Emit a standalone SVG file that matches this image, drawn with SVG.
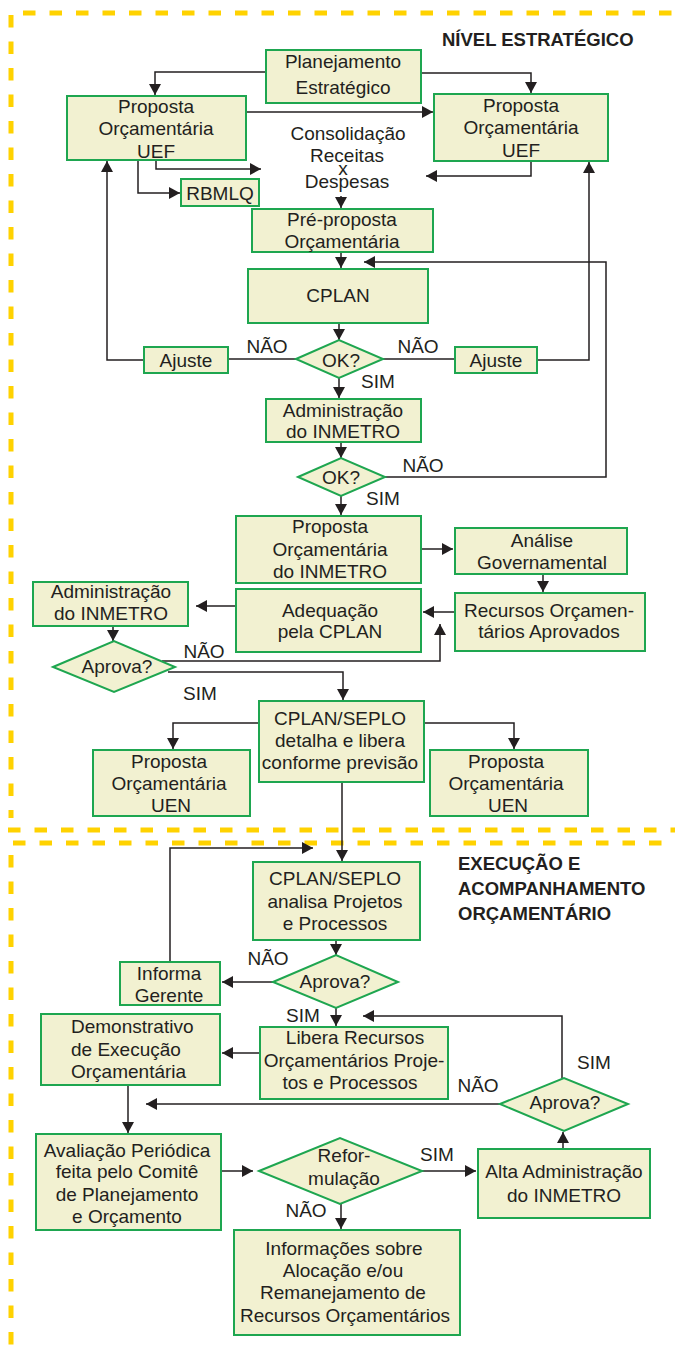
<svg xmlns="http://www.w3.org/2000/svg" width="675" height="1351" viewBox="0 0 675 1351">
<defs>
<marker id="ah" viewBox="0 0 11 12" refX="11" refY="6" markerWidth="11" markerHeight="12" markerUnits="userSpaceOnUse" orient="auto"><path d="M0,0 L11,6 L0,12 z" fill="#231F20"/></marker>
</defs>
<style>
.b{fill:#F2F1D1;stroke:#1EA650;stroke-width:2}
.t{font-family:"Liberation Sans",Arial,sans-serif;font-size:19px;fill:#231F20;text-anchor:middle}
.l{font-family:"Liberation Sans",Arial,sans-serif;font-size:19px;fill:#231F20}
.h{font-family:"Liberation Sans",Arial,sans-serif;font-size:18.5px;font-weight:bold;fill:#231F20}
.c{fill:none;stroke:#231F20;stroke-width:1.5}
.a{marker-end:url(#ah)}
.y{fill:none;stroke:#FFD200;stroke-width:5;stroke-dasharray:12.5 14}
</style>
<rect width="675" height="1351" fill="#FFFFFF"/>
<g id="borders">
<path class="y" d="M23,13 H675"/>
<path class="y" d="M11,15 V818"/>
<path class="y" d="M8,830 H675"/>
<path class="y" d="M13,843 H675"/>
<path class="y" d="M11,855 V1345"/>
</g>
<g id="titles">
<text class="h" x="442" y="46">NÍVEL ESTRATÉGICO</text>
<text class="h" x="458" y="870">EXECUÇÃO E</text>
<text class="h" x="458" y="895">ACOMPANHAMENTO</text>
<text class="h" x="458" y="920">ORÇAMENTÁRIO</text>
</g>
<g id="connectors">
<path class="c a" d="M266,72 H155 V95"/>
<path class="c a" d="M421,73 H531 V93"/>
<path class="c a" d="M246,112 H433"/>
<path class="c a" d="M156,160 V169 H261"/>
<path class="c a" d="M138,160 V193 H180"/>
<path class="c a" d="M531,161 V176 H426"/>
<path class="c a" d="M341,196 V208"/>
<path class="c a" d="M341,252 V268"/>
<path class="c a" d="M385,477 H606 V262 H364"/>
<path class="c a" d="M339,323 V340"/>
<path class="c" d="M296,359 H228"/>
<path class="c a" d="M144,360 H107 V161"/>
<path class="c" d="M383,359 H455"/>
<path class="c a" d="M537,360 H589 V162"/>
<path class="c a" d="M339,378 V398"/>
<path class="c a" d="M341,442 V458"/>
<path class="c a" d="M341,496 V515"/>
<path class="c a" d="M421,549 H453"/>
<path class="c a" d="M543,574 V592"/>
<path class="c a" d="M455,612 H423"/>
<path class="c a" d="M236,606 H196"/>
<path class="c a" d="M113,626 V641"/>
<path class="c a" d="M162,661 H440 V624"/>
<path class="c a" d="M168,672 H343 V700"/>
<path class="c a" d="M259,723 H173 V749"/>
<path class="c a" d="M424,723 H514 V749"/>
<path class="c a" d="M342,782 V861"/>
<path class="c a" d="M170,962 V848 H313"/>
<path class="c a" d="M336,940 V955"/>
<path class="c a" d="M273,982 H222"/>
<path class="c a" d="M336,1008 V1026"/>
<path class="c a" d="M260,1053 H222"/>
<path class="c a" d="M562,1078 V1016 H363"/>
<path class="c a" d="M500,1104 H146"/>
<path class="c a" d="M128,1085 V1133"/>
<path class="c a" d="M221,1171 H253"/>
<path class="c a" d="M422,1171 H476"/>
<path class="c a" d="M563,1149 V1132"/>
<path class="c a" d="M341,1204 V1229"/>
</g>
<g id="labels">
<text class="t" x="267" y="353">NÃO</text>
<text class="t" x="418" y="353">NÃO</text>
<text class="t" x="378" y="388">SIM</text>
<text class="t" x="423" y="472">NÃO</text>
<text class="t" x="383" y="505">SIM</text>
<text class="t" x="204" y="658">NÃO</text>
<text class="t" x="200" y="700">SIM</text>
<text class="t" x="268" y="965">NÃO</text>
<text class="t" x="303" y="1022">SIM</text>
<text class="t" x="478" y="1092">NÃO</text>
<text class="t" x="594" y="1069">SIM</text>
<text class="t" x="306" y="1217">NÃO</text>
<text class="t" x="437" y="1161">SIM</text>
</g>
<g id="n-planejamento"><rect class="b" x="266" y="50" width="155" height="53"/><text class="t" x="343" y="68">Planejamento</text><text class="t" x="343" y="94">Estratégico</text></g>
<g id="n-uef-left"><rect class="b" x="67" y="96" width="179" height="64"/><text class="t" x="156" y="113">Proposta</text><text class="t" x="156" y="135">Orçamentária</text><text class="t" x="156" y="158">UEF</text></g>
<g id="n-uef-right"><rect class="b" x="434" y="94" width="174" height="67"/><text class="t" x="521" y="112">Proposta</text><text class="t" x="521" y="134">Orçamentária</text><text class="t" x="521" y="157">UEF</text></g>
<g id="n-consolidacao"><text class="t" x="348" y="140">Consolidação</text><text class="t" x="347" y="162">Receitas</text><text class="t" x="343" y="175">x</text><text class="t" x="347" y="188">Despesas</text></g>
<g id="n-rbmlq"><rect class="b" x="181" y="179" width="78" height="27"/><text class="t" x="220" y="200">RBMLQ</text></g>
<g id="n-preproposta"><rect class="b" x="252" y="209" width="181" height="43"/><text class="t" x="342" y="226">Pré-proposta</text><text class="t" x="342" y="248">Orçamentária</text></g>
<g id="n-cplan"><rect class="b" x="248" y="269" width="180" height="54"/><text class="t" x="338" y="302">CPLAN</text></g>
<g id="n-ok1"><polygon class="b" points="296,359 339,340 383,359 339,378"/><text class="t" x="341" y="367">OK?</text></g>
<g id="n-ajuste-left"><rect class="b" x="144" y="347" width="84" height="26"/><text class="t" x="186" y="367">Ajuste</text></g>
<g id="n-ajuste-right"><rect class="b" x="455" y="347" width="82" height="26"/><text class="t" x="496" y="367">Ajuste</text></g>
<g id="n-admin1"><rect class="b" x="266" y="399" width="155" height="43"/><text class="t" x="343" y="417">Administração</text><text class="t" x="343" y="438">do INMETRO</text></g>
<g id="n-ok2"><polygon class="b" points="298,477 341,458 385,477 341,496"/><text class="t" x="341" y="484">OK?</text></g>
<g id="n-proposta-inmetro"><rect class="b" x="236" y="516" width="185" height="67"/><text class="t" x="330" y="533">Proposta</text><text class="t" x="330" y="556">Orçamentária</text><text class="t" x="330" y="578">do INMETRO</text></g>
<g id="n-analise"><rect class="b" x="455" y="528" width="172" height="46"/><text class="t" x="542" y="547">Análise</text><text class="t" x="542" y="569">Governamental</text></g>
<g id="n-adequacao"><rect class="b" x="236" y="589" width="185" height="63"/><text class="t" x="330" y="617">Adequação</text><text class="t" x="330" y="638">pela CPLAN</text></g>
<g id="n-recursos"><rect class="b" x="455" y="593" width="190" height="58"/><text class="t" x="549" y="617">Recursos Orçamen-</text><text class="t" x="549" y="638">tários Aprovados</text></g>
<g id="n-admin2"><rect class="b" x="33" y="582" width="155" height="44"/><text class="t" x="111" y="598">Administração</text><text class="t" x="111" y="620">do INMETRO</text></g>
<g id="n-aprova1"><polygon class="b" points="53,667 114,641 175,667 114,692"/><text class="t" x="117" y="673">Aprova?</text></g>
<g id="n-cplan-detalha"><rect class="b" x="259" y="701" width="165" height="81"/><text class="t" x="340" y="725">CPLAN/SEPLO</text><text class="t" x="340" y="747">detalha e libera</text><text class="t" x="340" y="769">conforme previsão</text></g>
<g id="n-uen-left"><rect class="b" x="93" y="750" width="157" height="66"/><text class="t" x="169" y="768">Proposta</text><text class="t" x="169" y="790">Orçamentária</text><text class="t" x="171" y="812">UEN</text></g>
<g id="n-uen-right"><rect class="b" x="430" y="750" width="158" height="66"/><text class="t" x="506" y="768">Proposta</text><text class="t" x="506" y="790">Orçamentária</text><text class="t" x="508" y="812">UEN</text></g>
<g id="n-cplan-analisa"><rect class="b" x="253" y="862" width="167" height="78"/><text class="t" x="335" y="885">CPLAN/SEPLO</text><text class="t" x="335" y="908">analisa Projetos</text><text class="t" x="335" y="930">e Processos</text></g>
<g id="n-aprova2"><polygon class="b" points="273,982 336,955 398,982 336,1008"/><text class="t" x="335" y="988">Aprova?</text></g>
<g id="n-informa"><rect class="b" x="120" y="962" width="100" height="43"/><text class="t" x="169" y="980">Informa</text><text class="t" x="169" y="1002">Gerente</text></g>
<g id="n-libera"><rect class="b" x="260" y="1027" width="188" height="72"/><text class="t" x="355" y="1044">Libera Recursos</text><text class="t" x="354" y="1067">Orçamentários Proje-</text><text class="t" x="350" y="1089">tos e Processos</text></g>
<g id="n-demonstrativo"><rect class="b" x="41" y="1014" width="179" height="71"/><text class="l" x="71" y="1033">Demonstrativo</text><text class="l" x="71" y="1056">de Execução</text><text class="l" x="71" y="1078">Orçamentária</text></g>
<g id="n-aprova3"><polygon class="b" points="500,1104 564,1078 628,1104 564,1131"/><text class="t" x="565" y="1109">Aprova?</text></g>
<g id="n-avaliacao"><rect class="b" x="36" y="1134" width="185" height="96"/><text class="t" x="127" y="1157">Avaliação Periódica</text><text class="t" x="127" y="1178">feita pelo Comitê</text><text class="t" x="127" y="1201">de Planejamento</text><text class="t" x="127" y="1223">e Orçamento</text></g>
<g id="n-reformulacao"><polygon class="b" points="259,1171 340,1138 422,1171 340,1204"/><text class="t" x="344" y="1162">Refor-</text><text class="t" x="344" y="1185">mulação</text></g>
<g id="n-alta"><rect class="b" x="478" y="1149" width="172" height="69"/><text class="t" x="564" y="1178">Alta Administração</text><text class="t" x="564" y="1202">do INMETRO</text></g>
<g id="n-informacoes"><rect class="b" x="234" y="1230" width="226" height="105"/><text class="t" x="344" y="1255">Informações sobre</text><text class="t" x="343" y="1277">Alocação e/ou</text><text class="t" x="343" y="1299">Remanejamento de</text><text class="t" x="345" y="1322">Recursos Orçamentários</text></g>
</svg>
